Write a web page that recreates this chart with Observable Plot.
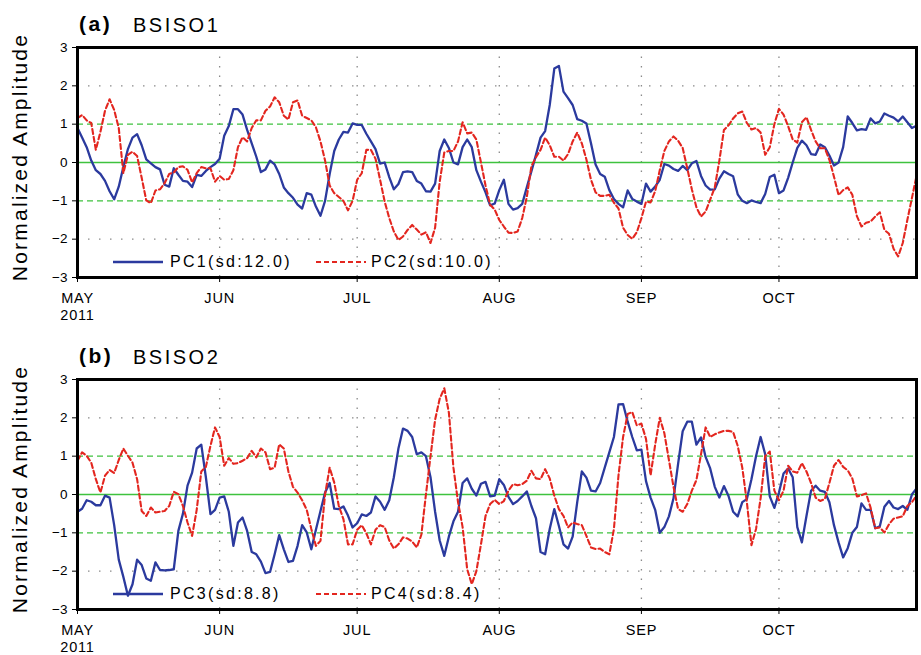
<!DOCTYPE html>
<html><head><meta charset="utf-8">
<script src="https://cdn.jsdelivr.net/npm/d3@7"></script>
<script src="https://cdn.jsdelivr.net/npm/@observablehq/plot@0.6"></script>
<style>
body{margin:0;background:#fff;}
#wrap{position:relative;width:921px;height:655px;font-family:"Liberation Sans",Arial,sans-serif;color:#000;overflow:hidden;}
#wrap svg{display:block;}
#wrap svg g[aria-label="x-axis tick label"]{font-size:14.5px;letter-spacing:0.8px;}
#wrap svg g[aria-label="y-axis tick label"]{font-size:13.5px;}
.t{position:absolute;font-size:20px;line-height:20px;letter-spacing:2.5px;white-space:nowrap;}
.tb{font-weight:bold;font-size:21px;}
.ylab{position:absolute;font-size:21px;line-height:24px;letter-spacing:2.2px;white-space:nowrap;transform:translate(-50%,-50%) rotate(-90deg);}
.leg{position:absolute;font-size:16px;line-height:16px;letter-spacing:2.3px;white-space:nowrap;}
.ls{position:absolute;}
</style></head><body><div id="wrap"></div>
<script>
// daily values, 2011-05-01 .. 2011-10-31
const pc1 = [
0.9,0.65,0.4,0.05,-0.2,-0.3,-0.48,-0.75,-0.96,-0.63,
-0.12,0.35,0.65,0.74,0.45,0.08,-0.02,-0.12,-0.18,-0.58,
-0.63,-0.15,-0.32,-0.48,-0.5,-0.64,-0.32,-0.35,-0.22,-0.12,
-0.04,0.1,0.7,0.95,1.39,1.39,1.25,0.85,0.5,0.15,
-0.25,-0.18,0.05,-0.05,-0.3,-0.65,-0.8,-0.92,-1.1,-1.2,
-0.8,-0.84,-1.15,-1.39,-1.0,-0.3,0.3,0.6,0.8,0.78,
1.02,0.98,0.98,0.75,0.55,0.35,-0.03,0.0,-0.38,-0.7,
-0.56,-0.25,-0.23,-0.25,-0.48,-0.55,-0.75,-0.76,-0.55,0.3,
0.6,0.38,0.0,-0.05,0.4,0.6,0.4,-0.2,-0.5,-0.78,
-1.12,-1.07,-0.72,-0.45,-1.08,-1.23,-1.19,-1.08,-0.65,-0.23,
0.2,0.65,0.82,1.5,2.45,2.52,1.85,1.68,1.5,1.13,
1.09,1.02,0.5,-0.05,-0.3,-0.37,-0.72,-0.95,-1.08,-1.17,
-0.73,-0.95,-1.02,-1.08,-0.55,-0.76,-0.63,-0.45,-0.04,-0.08,
-0.17,-0.22,-0.09,-0.2,-0.02,0.04,-0.35,-0.6,-0.71,-0.7,
-0.42,-0.23,-0.3,-0.36,-0.83,-1.0,-1.06,-0.99,-1.03,-1.06,
-0.82,-0.38,-0.32,-0.8,-0.73,-0.4,0.0,0.38,0.57,0.45,
0.22,0.2,0.47,0.4,0.18,-0.08,0.0,0.4,1.2,1.03,
0.84,0.87,0.85,1.15,1.02,1.07,1.28,1.22,1.17,1.07,
1.2,1.05,0.9,0.96];
const pc2 = [
1.16,1.24,1.1,1.03,0.33,0.8,1.35,1.65,1.37,0.9,
-0.28,0.2,0.28,0.17,-0.4,-0.99,-1.06,-0.73,-0.7,-0.54,
-0.3,-0.26,-0.12,-0.1,-0.19,-0.52,-0.28,-0.12,-0.15,-0.15,
-0.5,-0.35,-0.45,-0.43,-0.2,0.4,0.66,0.55,0.9,1.1,
1.1,1.35,1.46,1.7,1.57,1.22,1.12,1.57,1.62,1.22,
1.16,1.1,0.92,0.55,0.05,-0.6,-0.8,-0.9,-1.0,-1.25,
-1.0,-0.45,-0.28,0.33,0.33,0.1,-0.45,-1.02,-1.45,-1.8,
-2.02,-1.93,-1.76,-1.63,-1.75,-1.88,-1.82,-2.1,-1.7,-0.5,
0.26,0.3,0.3,0.55,1.05,0.76,0.78,0.6,0.0,-0.6,
-1.1,-1.23,-1.5,-1.67,-1.83,-1.84,-1.8,-1.45,-0.9,-0.1,
0.14,0.33,0.65,0.45,0.15,0.15,0.05,0.22,0.55,0.78,
0.5,0.08,-0.45,-0.78,-0.87,-0.87,-0.84,-1.05,-1.2,-1.7,
-1.89,-1.99,-1.82,-1.45,-1.02,-1.04,-0.75,-0.2,0.3,0.55,
0.68,0.57,0.38,-0.15,-0.7,-1.17,-1.41,-1.28,-0.97,-0.65,
0.05,0.85,0.97,1.15,1.28,1.33,1.03,0.86,0.9,0.78,
0.2,0.4,1.0,1.4,1.25,0.95,0.6,0.52,1.05,1.18,
0.85,0.55,0.37,0.37,0.07,-0.37,-0.85,-0.72,-0.65,-0.84,
-1.4,-1.67,-1.57,-1.54,-1.41,-1.3,-1.76,-1.86,-2.25,-2.45,
-2.1,-1.5,-0.93,-0.35];
const pc3 = [
-0.45,-0.37,-0.15,-0.19,-0.28,-0.28,-0.03,-0.08,-0.8,-1.7,
-2.15,-2.64,-2.34,-1.7,-1.84,-2.19,-2.25,-1.77,-1.97,-1.98,
-1.97,-1.95,-0.95,-0.5,0.23,0.57,1.2,1.3,0.45,-0.51,
-0.4,-0.08,-0.05,-0.45,-1.34,-0.73,-0.6,-0.95,-1.5,-1.56,
-1.75,-2.05,-2.02,-1.56,-1.06,-1.43,-1.76,-1.73,-1.34,-0.8,
-0.99,-1.43,-0.92,-0.43,0.05,0.3,-0.37,-0.38,-0.31,-0.55,
-0.86,-0.75,-0.52,-0.56,-0.47,-0.05,-0.19,-0.4,-0.15,0.45,
1.2,1.72,1.66,1.5,1.05,1.1,1.0,0.45,-0.45,-1.2,
-1.6,-1.1,-0.7,-0.45,0.3,0.42,0.15,-0.03,0.28,0.33,
-0.05,-0.03,0.4,0.25,-0.06,-0.25,-0.17,-0.05,0.08,-0.3,
-0.62,-1.5,-1.56,-0.9,-0.38,-0.82,-1.3,-1.41,-1.1,-0.2,
0.6,0.44,0.1,0.08,0.3,0.7,1.1,1.5,2.35,2.36,
1.9,1.5,1.15,1.17,0.35,-0.08,-0.4,-1.0,-0.85,-0.57,
-0.1,0.8,1.65,1.9,1.9,1.3,1.49,0.98,0.68,0.2,
-0.08,0.22,-0.04,-0.45,-0.57,-0.2,-0.12,0.4,1.0,1.5,
1.05,-0.05,-0.35,0.05,0.55,0.68,0.45,-0.85,-1.25,-0.56,
0.1,0.23,0.1,0.07,-0.2,-0.8,-1.25,-1.64,-1.4,-1.0,
-0.85,-0.23,-0.4,-0.4,-0.88,-0.83,-0.32,-0.17,-0.34,-0.38,
-0.3,-0.4,0.0,0.16];
const pc4 = [
0.88,1.1,1.01,0.83,0.4,0.05,0.49,0.64,0.56,0.9,
1.2,1.01,0.83,0.4,-0.43,-0.56,-0.34,-0.47,-0.45,-0.43,
-0.3,0.07,0.01,-0.3,-0.73,-1.08,-0.4,0.6,0.72,1.27,
1.75,1.5,0.75,0.95,0.8,0.82,0.88,0.95,1.14,0.97,
1.2,1.1,0.66,0.7,1.31,1.2,0.6,0.2,0.05,-0.15,
-0.4,-0.9,-1.34,-1.21,0.0,0.7,0.31,-0.3,-0.64,-1.3,
-1.3,-0.92,-0.8,-1.01,-1.3,-0.92,-0.8,-0.85,-1.2,-1.41,
-1.3,-1.12,-1.15,-1.23,-1.38,-1.05,0.0,1.0,1.95,2.5,
2.77,2.14,0.7,-0.2,-0.85,-1.95,-2.34,-2.0,-1.3,-0.56,
-0.25,-0.14,-0.25,-0.17,0.1,0.27,0.24,0.27,0.36,0.62,
0.42,0.4,0.66,0.42,-0.03,-0.38,-0.56,-0.86,-0.73,-0.77,
-0.8,-1.08,-1.38,-1.42,-1.41,-1.5,-1.56,-0.9,0.5,1.5,
2.1,2.15,1.8,1.85,1.45,0.5,1.3,2.0,1.6,0.9,
0.2,-0.38,-0.45,-0.25,0.1,0.38,1.05,1.75,1.5,1.57,
1.62,1.66,1.66,1.63,1.27,0.7,-0.2,-1.32,-0.9,-0.1,
1.0,1.12,0.1,-0.15,0.1,0.75,0.6,0.57,0.82,0.6,
0.3,-0.08,-0.17,-0.12,0.3,0.75,0.9,0.72,0.63,0.42,
-0.05,-0.02,0.03,-0.35,-0.88,-0.86,-0.99,-0.78,-0.63,-0.6,
-0.57,-0.3,-0.2,-0.03];

const monthLabels = ["MAY\n2011","JUN","JUL","AUG","SEP","OCT"];
const yTicks = [-3,-2,-1,0,1,2,3];
const dottedY = [-2,2];
const dashedY = [-1,1];
const panelTitles = [["(a)","BSISO1"],["(b)","BSISO2"]];
const legendNames = [["PC1(sd:12.0)","PC2(sd:10.0)"],["PC3(sd:8.8)","PC4(sd:8.4)"]];

const start = Date.UTC(2011,4,1);
const dates = pc1.map((_, i) => new Date(start + i * 864e5));
const monthStarts = [4,5,6,7,8,9].map(m => new Date(Date.UTC(2011, m, 1)));
const xDomain = [new Date(start), new Date(Date.UTC(2011,9,31))];

const BLUE = "#2b3a9e", RED = "#e3261f", GREEN = "#3fc23f", GREY = "#8a8a8a";

function panel(a, b, mt, mb) {
  return Plot.plot({
    width: 921, height: 230 + mt + mb,
    marginLeft: 77, marginRight: 5, marginTop: mt, marginBottom: mb,
    style: {fontFamily: "'Liberation Sans', Arial, sans-serif", fontSize: "13px", background: "white", overflow: "visible", color: "black"},
    x: {type: "utc", domain: xDomain},
    y: {domain: [-3, 3]},
    marks: [
      Plot.gridX(monthStarts.slice(1), {stroke: GREY, strokeOpacity: 1, strokeWidth: 1.3, strokeDasharray: "1.5,8"}),
      Plot.gridY(dottedY, {stroke: GREY, strokeOpacity: 1, strokeWidth: 1.3, strokeDasharray: "1.5,9.5"}),
      Plot.ruleY([0], {stroke: GREEN, strokeWidth: 1.6}),
      Plot.ruleY(dashedY, {stroke: GREEN, strokeWidth: 1.4, strokeDasharray: "6,4"}),
      Plot.lineY(a, {x: (d, i) => dates[i], y: d => d, stroke: BLUE, strokeWidth: 2.3}),
      Plot.lineY(b, {x: (d, i) => dates[i], y: d => d, stroke: RED, strokeWidth: 2.1, strokeDasharray: "5,3"}),
      Plot.axisX({ticks: monthStarts, tickFormat: d => monthLabels[d.getUTCMonth() - 4], tickSize: 5, tickPadding: 8, lineHeight: 1.2, label: null}),
      Plot.axisY({ticks: yTicks, tickSize: 5, tickPadding: 5, tickFormat: d => d < 0 ? "\u2212" + (-d) : String(d), label: null}),
      Plot.frame({stroke: "black", strokeWidth: 3})
    ]
  });
}

const wrap = document.getElementById("wrap");
wrap.appendChild(panel(pc1, pc2, 47, 50));
wrap.appendChild(panel(pc3, pc4, 52, 46));

function addDiv(cls, text, left, top) {
  const d = document.createElement("div");
  d.className = cls; d.textContent = text;
  d.style.left = left + "px"; d.style.top = top + "px";
  wrap.appendChild(d); return d;
}
function addSample(color, dash, left, y) {
  const ns = "http://www.w3.org/2000/svg";
  const s = document.createElementNS(ns, "svg");
  s.setAttribute("class", "ls"); s.setAttribute("width", 50); s.setAttribute("height", 6);
  s.style.left = left + "px"; s.style.top = (y - 3) + "px";
  const l = document.createElementNS(ns, "line");
  l.setAttribute("x1", 0); l.setAttribute("x2", 50); l.setAttribute("y1", 3); l.setAttribute("y2", 3);
  l.setAttribute("stroke", color); l.setAttribute("stroke-width", dash ? 2.1 : 2.5);
  if (dash) l.setAttribute("stroke-dasharray", "5,3");
  s.appendChild(l); wrap.appendChild(s);
}

const frameTops = [47, 379];
panelTitles.forEach((t, k) => {
  const top = frameTops[k] - 32;
  addDiv("t tb", t[0], 79, top - 1);
  addDiv("t", t[1], 133, top);
  addDiv("ylab", "Normalized Amplitude", 20, frameTops[k] + 110);
  const ly = frameTops[k] + 215;
  addSample(BLUE, false, 113, ly);
  addDiv("leg", legendNames[k][0], 170, ly - 8);
  addSample(RED, true, 316, ly);
  addDiv("leg", legendNames[k][1], 371, ly - 8);
});
</script></body></html>
